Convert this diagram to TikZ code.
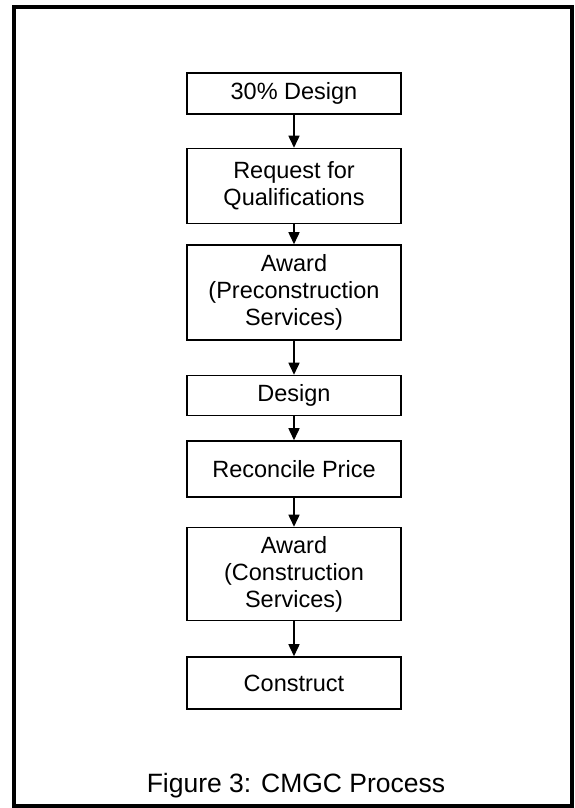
\documentclass[tikz,border=0pt]{standalone}
\usepackage{fontspec}
\setmainfont{Liberation Sans}
\usetikzlibrary{positioning}
\usetikzlibrary{arrows.meta}

\begin{document}
\begin{tikzpicture}[x=1pt,y=1pt,
		stage/.style={draw,line width=0.75pt,minimum width=107pt,align=center,
			inner sep=0pt,font=\fontsize{11.75}{13.5}\selectfont},
		flow/.style={-{Triangle[length=6pt,width=5.5pt]},line width=0.75pt}]
	\useasboundingbox (0,0) rectangle (287,404);
	\draw[line width=2pt] (7,1) rectangle (286,400.5);
	% process steps
	\node[stage,minimum height=20.5pt] (design30) at (147,357.25) {30\% Design};
	\node[stage,minimum height=37.5pt,below=16.5pt of design30] (rfq) {Request for\\Qualifications};
	\node[stage,minimum height=47.5pt,below=10pt of rfq] (awardpre) {Award\\(Preconstruction\\Services)};
	\node[stage,minimum height=20pt,below=17pt of awardpre] (design) {Design};
	\node[stage,minimum height=28pt,below=12pt of design] (price) {Reconcile Price};
	\node[stage,minimum height=46.5pt,below=14.5pt of price] (awardcon) {Award\\(Construction\\Services)};
	\node[stage,minimum height=26pt,below=17.5pt of awardcon] (construct) {Construct};
	% arrows
	\draw[flow] (design30) -- (rfq);
	\draw[flow] (rfq) -- (awardpre);
	\draw[flow] (awardpre) -- (design);
	\draw[flow] (design) -- (price);
	\draw[flow] (price) -- (awardcon);
	\draw[flow] (awardcon) -- (construct);
	\node[font=\fontsize{13.25}{15}\selectfont,anchor=base] (caption) at (148,7.5) {Figure 3: CMGC Process};
\end{tikzpicture}
\end{document}
